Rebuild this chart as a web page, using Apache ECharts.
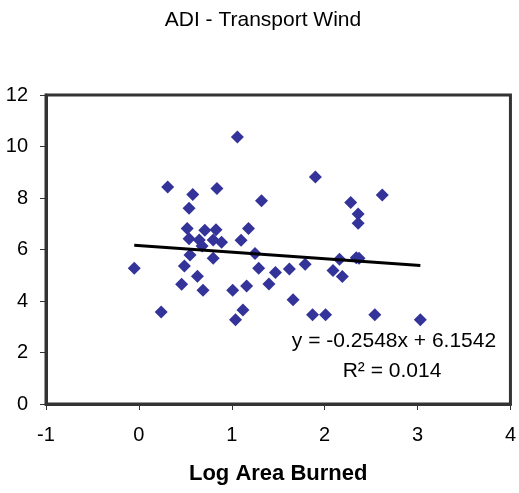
<!DOCTYPE html>
<html>
<head>
<meta charset="utf-8">
<script src="https://cdn.jsdelivr.net/npm/echarts@6/dist/echarts.min.js"></script>
<style>
html,body{margin:0;padding:0;background:#fff;}
#chart{width:519px;height:493px;}
</style>
</head>
<body>
<div id="chart"></div>
<script>
// Log Area Burned values
var logArea = [1.06,0.31,0.58,0.84,1.32,0.54,0.52,0.71,0.83,1.18,0.54,0.65,0.68,0.80,0.89,1.10,1.25,0.55,0.80,-0.05,0.49,1.29,1.47,0.63,0.46,0.69,1.01,1.16,1.40,0.24,1.12,1.04,1.90,2.62,2.28,2.36,2.36,2.16,2.34,2.37,1.62,1.79,2.09,2.19,1.66,1.87,2.01,2.54,3.03];
// ADI - Transport Wind values
var transportWind = [10.37,8.43,8.14,8.37,7.89,7.60,6.82,6.75,6.77,6.82,6.42,6.37,6.14,6.37,6.28,6.36,5.84,5.79,5.66,5.27,5.36,5.27,5.11,4.96,4.65,4.42,4.42,4.58,4.66,3.57,3.65,3.27,8.82,8.12,7.83,7.38,7.02,5.62,5.68,5.66,5.24,5.43,5.18,4.95,4.05,3.47,3.47,3.47,3.27];
// trendline coefficients [slope, intercept] and R²
var trendCoef = [-0.2548, 6.1542];
var rSquared = [0.014];
var xTicks = [-1, 0, 1, 2, 3, 4];
var yTicks = [0, 2, 4, 6, 8, 10, 12];

var points = logArea.map(function (x, i) { return [x, transportWind[i]]; });
var xMin = Math.min.apply(null, logArea), xMax = Math.max.apply(null, logArea);
var trend = [xMin, xMax].map(function (x) { return [x, trendCoef[0] * x + trendCoef[1]]; });

var FONT = '"Liberation Sans", Arial, sans-serif';
var chart = echarts.init(document.getElementById('chart'), null, {renderer: 'canvas'});
chart.setOption({
  backgroundColor: '#fff',
  animation: false,
  grid: {left: 46, right: 7, top: 95, bottom: 89, show: true, borderColor: '#333', borderWidth: 3, backgroundColor: 'transparent'},
  xAxis: {
    type: 'value', min: xTicks[0], max: xTicks[xTicks.length - 1], interval: 1,
    name: 'Log Area Burned', nameLocation: 'middle', nameGap: 59,
    nameTextStyle: {fontFamily: FONT, fontSize: 22, fontWeight: 'bold', color: '#000'},
    axisLine: {onZero: false, lineStyle: {color: '#333', width: 3}},
    axisTick: {show: true, length: 6, lineStyle: {color: '#333', width: 1}},
    axisLabel: {fontFamily: FONT, fontSize: 20, color: '#000', margin: 21},
    splitLine: {show: false}
  },
  yAxis: {
    type: 'value', min: yTicks[0], max: yTicks[yTicks.length - 1], interval: 2,
    axisLine: {show: true, onZero: false, lineStyle: {color: '#333', width: 3}},
    axisTick: {show: true, length: 6, lineStyle: {color: '#333', width: 1}},
    axisLabel: {fontFamily: FONT, fontSize: 20, color: '#000', margin: 18},
    splitLine: {show: false}
  },
  graphic: [
    {type: 'text', x: 263, y: 20, style: {text: 'ADI - Transport Wind', font: '21px ' + FONT, fill: '#000', textAlign: 'center', textVerticalAlign: 'middle'}},
    {type: 'text', x: 394, y: 341, style: {text: 'y = ' + trendCoef[0] + 'x + ' + trendCoef[1], font: '21px ' + FONT, fill: '#000', textAlign: 'center', textVerticalAlign: 'middle'}},
    {type: 'text', x: 392, y: 371, style: {text: 'R\u00B2 = ' + rSquared[0], font: '21px ' + FONT, fill: '#000', textAlign: 'center', textVerticalAlign: 'middle'}}
  ],
  series: [
    {type: 'scatter', data: points, symbol: 'diamond', symbolSize: [13, 13], itemStyle: {color: '#333399', opacity: 1}, z: 3},
    {type: 'line', data: trend, symbol: 'none', lineStyle: {color: '#000', width: 3}, z: 4}
  ]
});
</script>
</body>
</html>
